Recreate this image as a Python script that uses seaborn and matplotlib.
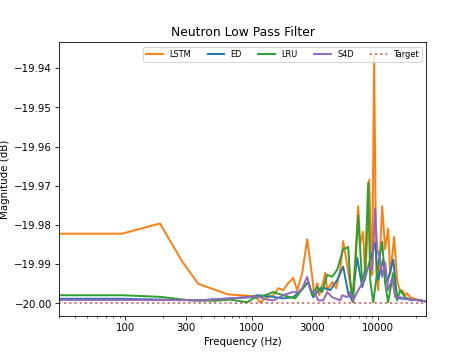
import matplotlib
matplotlib.use("Agg")
import matplotlib.pyplot as plt
import seaborn as sns
import pandas as pd

title = "Neutron Low Pass Filter"
x_label = "Frequency (Hz)"
y_label = "Magnitude (dB)"
x_ticks = [100, 300, 1000, 3000, 10000]
x_tick_labels = ["100", "300", "1000", "3000", "10000"]

lstm_freq = [30, 94, 188, 282, 378, 652, 811, 1066, 1167, 1279, 1479, 1620, 1774, 1944, 2129,
             2290, 2508, 2747, 3008, 3120, 3296, 3420, 3675, 3810, 3953, 4328, 4656, 5012, 5287, 5689,
             6008, 6227, 6577, 6950, 7210, 7611, 7889, 8184, 8492, 8810, 8974, 9291, 9640, 10000, 10375,
             10765, 11350, 11995, 12450, 13370, 14125, 14930, 15490, 16340, 16950, 17910, 18920, 21480, 24000]
lstm_mag = [-19.9822, -19.9822, -19.9796, -19.9893, -19.9950, -19.9977, -19.9979, -19.9982, -19.9997, -19.9987,
            -19.9979, -19.9961, -19.9966, -19.9948, -19.9935, -19.9966, -19.9922, -19.9836, -19.9932, -19.9979,
            -19.9948, -19.9979, -19.9945, -19.9922, -19.9966, -19.9945, -19.9961, -19.9914, -19.9841, -19.9901,
            -19.9953, -19.9995, -19.9888, -19.9752, -19.9849, -19.9817, -19.9940, -19.9836, -19.9684, -19.9862,
            -19.9927, -19.9366, -19.9914, -19.9966, -19.9862, -19.9752, -19.9862, -19.9809, -19.9927, -19.9830,
            -19.9940, -19.9971, -19.9966, -19.9979, -19.9974, -19.9984, -19.9987, -19.9992, -19.9995]

ed_freq = [30, 94, 188, 392, 676, 973, 1105, 1400, 1774, 2129, 2553, 2798, 3064, 3481, 3810,
           4177, 4742, 5287, 5795, 6227, 6822, 7476, 8337, 9463, 10000, 10965, 11775, 13150, 14125, 14930,
           17910, 21480, 24000]
ed_mag = [-19.9988, -19.9988, -19.9990, -19.9992, -19.9987, -19.9984, -19.9979, -19.9982, -19.9987, -19.9984,
          -19.9961, -19.9945, -19.9984, -19.9961, -19.9961, -19.9966, -19.9940, -19.9906, -19.9974, -19.9992,
          -19.9883, -19.9958, -19.9906, -19.9846, -19.9940, -19.9888, -19.9948, -19.9888, -19.9984, -19.9987,
          -19.9990, -19.9992, -19.9995]

lru_freq = [30, 94, 188, 326, 515, 676, 921, 1028, 1327, 1479, 1774, 2208, 2649, 2798, 3008,
            3296, 3608, 3953, 4328, 4742, 5012, 5287, 5795, 6008, 6340, 6950, 7476, 7889, 8337, 8650,
            9141, 10000, 10765, 11350, 11995, 13150, 14125, 14930, 16340, 17910, 21480, 24000]
lru_mag = [-19.9979, -19.9979, -19.9983, -19.9992, -19.9993, -19.9990, -19.9997, -19.9987, -19.9977, -19.9971,
           -19.9979, -19.9987, -19.9953, -19.9945, -19.9979, -19.9958, -19.9971, -19.9927, -19.9932, -19.9914,
           -19.9888, -19.9862, -19.9856, -19.9940, -19.9997, -19.9775, -19.9948, -19.9914, -19.9692, -19.9940,
           -19.9997, -19.9901, -19.9843, -19.9948, -19.9997, -19.9922, -19.9992, -19.9966, -19.9984, -19.9990,
           -19.9992, -19.9995]

s4d_freq = [30, 94, 227, 392, 676, 1105, 1327, 1479, 1774, 2091, 2333, 2508, 2747, 2900, 3120,
            3357, 3675, 3953, 4328, 5012, 5193, 5689, 6008, 6340, 6950, 7611, 8337, 8974, 9463, 9817,
            10375, 10765, 11350, 11995, 12910, 13620, 14930, 17910, 21480, 24000]
s4d_mag = [-19.9991, -19.9991, -19.9991, -19.9992, -19.9987, -19.9982, -19.9990, -19.9992, -19.9979, -19.9971,
           -19.9971, -19.9961, -19.9932, -19.9966, -19.9971, -19.9992, -19.9992, -19.9971, -19.9984, -19.9992,
           -19.9979, -19.9984, -19.9971, -19.9992, -19.9966, -19.9945, -19.9906, -19.9914, -19.9757, -19.9862,
           -19.9888, -19.9932, -19.9896, -19.9966, -19.9935, -19.9984, -19.9984, -19.9990, -19.9992, -19.9995]

target_freq = [30, 24000]
target_mag = [-20.0, -20.0]

series = [
    ("LSTM", lstm_freq, lstm_mag, "tab:orange", "-"),
    ("ED", ed_freq, ed_mag, "tab:blue", "-"),
    ("LRU", lru_freq, lru_mag, "tab:green", "-"),
    ("S4D", s4d_freq, s4d_mag, "tab:purple", "-"),
    ("Target", target_freq, target_mag, "tab:red", ":"),
]

fig, ax = plt.subplots(figsize=(6.4, 4.8), dpi=74)
for name, f, m, c, ls in series:
    df = pd.DataFrame({"Frequency": f, "Magnitude": m})
    sns.lineplot(data=df, x="Frequency", y="Magnitude", ax=ax, color=c, linestyle=ls,
                 label=name, linewidth=1.9, estimator=None, sort=False,
                 alpha=0.7 if name == "Target" else 1.0)

ax.set_xscale("log")
ax.set_xlim(30, 24000)
ax.set_xticks(x_ticks)
ax.set_xticklabels(x_tick_labels)
ax.ticklabel_format(axis="y", useOffset=False)
ax.set_title(title)
ax.set_xlabel(x_label)
ax.set_ylabel(y_label)
ax.legend(loc="upper right", ncol=5, fontsize=8)
fig.savefig("out.png", dpi=74)
